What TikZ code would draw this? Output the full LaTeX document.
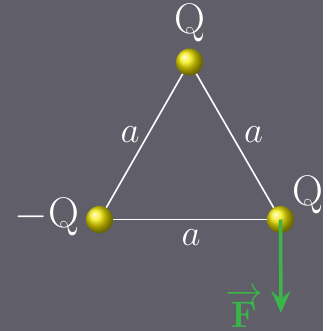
\documentclass[tikz,border=0pt]{standalone}
\usepackage{fix-cm}
\usepackage{xcolor}
\usepackage{tikz}
\usetikzlibrary{arrows.meta}
\definecolor{slatebg}{HTML}{605E68}
\definecolor{chargeyellow}{HTML}{F4EA00}
\definecolor{forcegreen}{HTML}{3BB44A}

\begin{document}
\begin{tikzpicture}[
    x=1bp, y=-1bp,
    charge/.style={
        circle, minimum size=27bp, inner sep=0pt,
        ball color=chargeyellow
    },
    side/.style={
        draw=white, line width=1.6bp
    },
    lbl/.style={
        text=white, anchor=base,
        font=\fontsize{37}{44}\selectfont
    },
    qlbl/.style={
        lbl, font=\fontsize{43}{50}\selectfont
    },
    force/.style={
        -{Stealth[length=22bp, width=19bp, inset=8bp]},
        draw=forcegreen, line width=3.5bp
    },
]
\fill[slatebg] (0,0) rectangle (323,331);

\node[charge] (qtop) at (189.5,62) {};
\node[charge] (qleft) at (99.5,219.5) {};
\node[charge] (qright) at (280.5,219.5) {};
\coordinate (fend) at (281,313);

\draw[side] (qtop) -- (qleft);
\draw[side] (qtop) -- (qright);
\draw[side] (qleft) -- (qright);

\node[qlbl] (labtop) at (189.5,33) {$\mathrm{Q}$};
\node[qlbl] (labright) at (307.5,205) {$\mathrm{Q}$};
\node[qlbl] (lableft) at (47,227) {$-\mathrm{Q}$};
\node[lbl] (sideleft) at (130,142) {$a$};
\node[lbl] (sideright) at (253.5,142) {$a$};
\node[lbl] (sidebottom) at (191,245) {$a$};

\draw[force] (qright.center) -- (fend);
\node[lbl, text=forcegreen] (labforce) at (244,327) {$\overrightarrow{\,\mathbf{F}\,}$};
\end{tikzpicture}
\end{document}
